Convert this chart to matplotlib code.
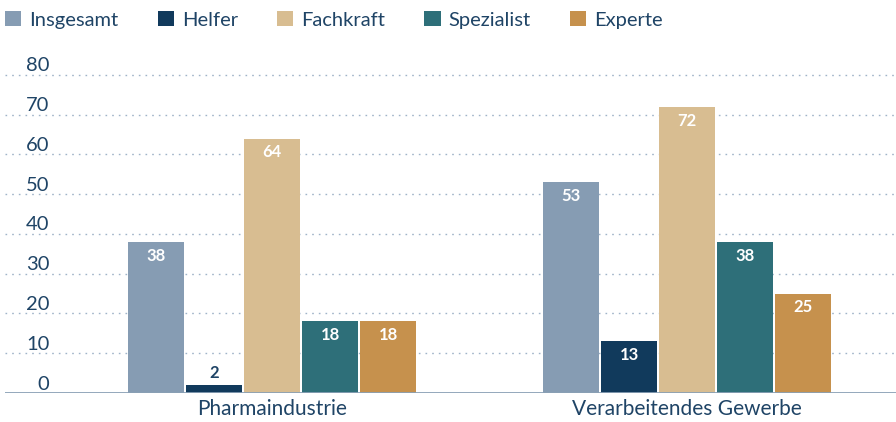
import numpy as np
import matplotlib
matplotlib.use('Agg')
import matplotlib.pyplot as plt
from matplotlib.transforms import ScaledTranslation

#data
groups = ['Pharmaindustrie', 'Verarbeitendes Gewerbe']
series = ['Insgesamt', 'Helfer', 'Fachkraft', 'Spezialist', 'Experte']
values = {
    'Insgesamt': [38, 53],
    'Helfer': [2, 13],
    'Fachkraft': [64, 72],
    'Spezialist': [18, 38],
    'Experte': [18, 25],
}
yticks = [0, 10, 20, 30, 40, 50, 60, 70, 80]

colors = ['#869cb3', '#113a5c', '#d8bd91', '#2e6f79', '#c6914d']
text_col = '#1f4466'

plt.rcParams['font.family'] = ['Lato', 'DejaVu Sans']

fig = plt.figure(figsize=(8.96, 4.22), dpi=100)
ax = fig.add_axes([5 / 896, 29 / 422, 891 / 896, (393 - 65) / 422])

x = np.arange(len(groups))
pitch = 0.1398
width = 0.135

for i, name in enumerate(series):
    pos = x + (i - 2) * pitch
    bars = ax.bar(pos, values[name], width, color=colors[i], label=name, zorder=3)
    for b, v in zip(bars, values[name]):
        cx = b.get_x() + b.get_width() / 2
        if v < 5:
            ax.annotate(str(v), (cx, v), xytext=(0, 8.5), textcoords='offset points',
                        ha='center', va='center', color=text_col,
                        fontsize=12, fontweight='bold', zorder=4)
        else:
            ax.annotate(str(v), (cx, v), xytext=(0, -10), textcoords='offset points',
                        ha='center', va='center', color='white',
                        fontsize=12, fontweight='bold', zorder=4)

ax.set_xlim(-0.6434, 1.5036)
ax.set_ylim(0, 82.5)

#dotted grid, solid base line
for t in yticks[1:]:
    ax.axhline(t, color='#9fb3c8', lw=1, dashes=(1.2, 3.6), zorder=1)
ax.axhline(0, color='#8aa0b5', lw=2, zorder=5)

for s in ax.spines.values():
    s.set_visible(False)

ax.set_xticks(x)
ax.set_xticklabels(groups, color=text_col, fontsize=15)
ax.tick_params(axis='x', length=0, pad=4)

ax.set_yticks(yticks)
ax.set_yticklabels([str(t) for t in yticks], color=text_col, fontsize=14.5)
ax.tick_params(axis='y', length=0, pad=-32)
offset = ScaledTranslation(0, 0.105, fig.dpi_scale_trans)
for lab in ax.get_yticklabels():
    lab.set_transform(lab.get_transform() + offset)

fig.legend(loc='upper left', bbox_to_anchor=(5 / 896, 1 - 11 / 422), ncol=5,
           frameon=False, fontsize=14.5, handlelength=0.8, handleheight=0.8,
           handletextpad=0.4, columnspacing=1.95, borderpad=0, borderaxespad=0,
           labelcolor=text_col)

fig.savefig('out.png', dpi=100)
